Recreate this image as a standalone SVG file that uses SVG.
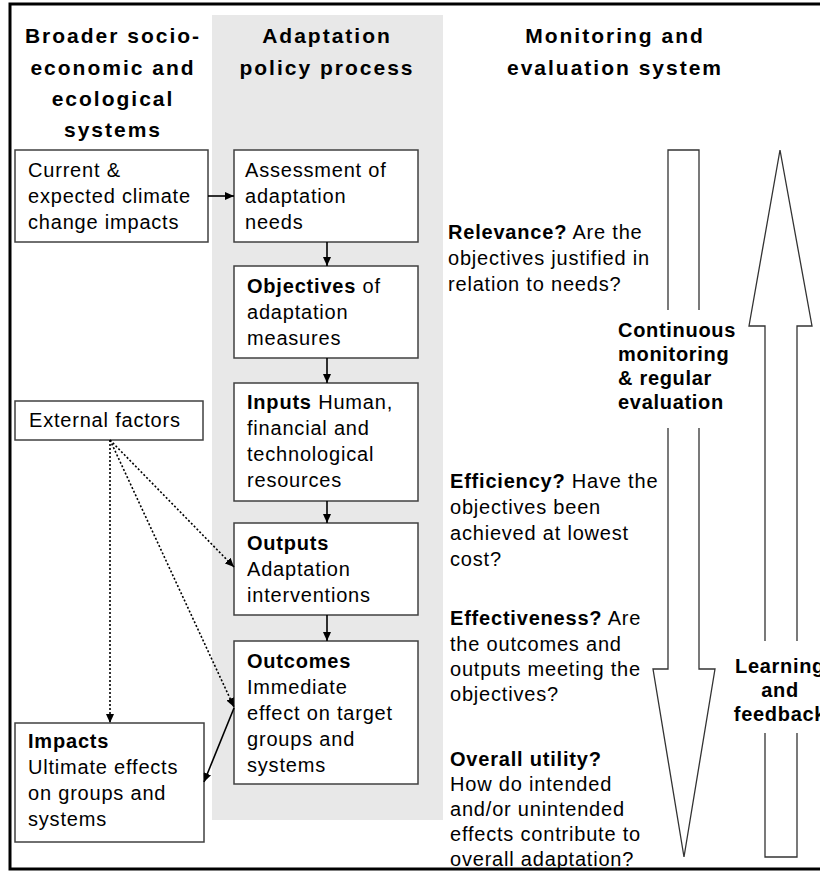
<svg xmlns="http://www.w3.org/2000/svg" width="820" height="871" viewBox="0 0 820 871">
<defs>
<style>
.bg{fill:#fff}
.panel{fill:#e8e8e8}
.frame{fill:none;stroke:#000;stroke-width:3}
.box{fill:#fff;stroke:#404040;stroke-width:1.5}
.t{font-family:"Liberation Sans",Arial,sans-serif;font-size:20px;letter-spacing:0.8px;fill:#000}
.b{font-weight:bold}
.title{font-family:"Liberation Sans",Arial,sans-serif;font-size:21px;font-weight:bold;letter-spacing:2px;text-anchor:middle;fill:#000}
.bt{font-family:"Liberation Sans",Arial,sans-serif;font-size:20px;font-weight:bold;letter-spacing:0.7px;fill:#000}
.c{text-anchor:middle}
.solid{fill:none;stroke:#000;stroke-width:1.6}
.dot{fill:none;stroke:#000;stroke-width:1.6;stroke-dasharray:2 2}
.big{fill:#fff;stroke:#333;stroke-width:1.3}
</style>
<marker id="ah" markerUnits="userSpaceOnUse" markerWidth="9" markerHeight="8" refX="9" refY="4" orient="auto">
<path d="M0,0 L9,4 L0,8 z" fill="#000"/>
</marker>
</defs>
<rect class="bg" x="0" y="0" width="820" height="871"/>
<rect class="panel" x="212" y="15" width="231" height="805"/>
<rect class="frame" x="10" y="4" width="830" height="865"/>

<g id="titles">
<text class="title" x="113" y="43">Broader socio-</text>
<text class="title" x="113" y="75">economic and</text>
<text class="title" x="113" y="106">ecological</text>
<text class="title" x="113" y="137">systems</text>
<text class="title" x="327" y="43">Adaptation</text>
<text class="title" x="327" y="75">policy process</text>
<text class="title" x="615" y="43">Monitoring and</text>
<text class="title" x="615" y="75">evaluation system</text>
</g>

<g id="current">
<rect class="box" x="15" y="150" width="193" height="92"/>
<text class="t" x="28" y="177">Current &amp;</text>
<text class="t" x="28" y="203">expected climate</text>
<text class="t" x="28" y="229">change impacts</text>
</g>

<g id="assessment">
<rect class="box" x="234" y="150" width="184" height="92"/>
<text class="t" x="245" y="177">Assessment of</text>
<text class="t" x="245" y="203">adaptation</text>
<text class="t" x="245" y="229">needs</text>
</g>

<g id="objectives">
<rect class="box" x="234" y="266" width="184" height="92"/>
<text class="t" x="247" y="293"><tspan class="b">Objectives</tspan> of</text>
<text class="t" x="247" y="319">adaptation</text>
<text class="t" x="247" y="345">measures</text>
</g>

<g id="inputs">
<rect class="box" x="234" y="383" width="184" height="118"/>
<text class="t" x="247" y="409"><tspan class="b">Inputs</tspan> Human,</text>
<text class="t" x="247" y="435">financial and</text>
<text class="t" x="247" y="461">technological</text>
<text class="t" x="247" y="487">resources</text>
</g>

<g id="outputs">
<rect class="box" x="234" y="523" width="184" height="92"/>
<text class="t" x="247" y="550"><tspan class="b">Outputs</tspan></text>
<text class="t" x="247" y="576">Adaptation</text>
<text class="t" x="247" y="602">interventions</text>
</g>

<g id="outcomes">
<rect class="box" x="234" y="641" width="184" height="143"/>
<text class="t" x="247" y="668"><tspan class="b">Outcomes</tspan></text>
<text class="t" x="247" y="694">Immediate</text>
<text class="t" x="247" y="720">effect on target</text>
<text class="t" x="247" y="746">groups and</text>
<text class="t" x="247" y="772">systems</text>
</g>

<g id="external">
<rect class="box" x="15" y="401" width="188" height="39"/>
<text class="t" x="29" y="427">External factors</text>
</g>

<g id="impacts">
<rect class="box" x="15" y="723" width="189" height="119"/>
<text class="t" x="28" y="748"><tspan class="b">Impacts</tspan></text>
<text class="t" x="28" y="774">Ultimate effects</text>
<text class="t" x="28" y="800">on groups and</text>
<text class="t" x="28" y="826">systems</text>
</g>

<g id="relevance">
<text class="t" x="448" y="239"><tspan class="b">Relevance?</tspan> Are the</text>
<text class="t" x="448" y="265">objectives justified in</text>
<text class="t" x="448" y="291">relation to needs?</text>
</g>

<g id="efficiency">
<text class="t" x="450" y="488"><tspan class="b">Efficiency?</tspan> Have the</text>
<text class="t" x="450" y="514">objectives been</text>
<text class="t" x="450" y="540">achieved at lowest</text>
<text class="t" x="450" y="566">cost?</text>
</g>

<g id="effectiveness">
<text class="t" x="450" y="625"><tspan class="b">Effectiveness?</tspan> Are</text>
<text class="t" x="450" y="651">the outcomes and</text>
<text class="t" x="450" y="676">outputs meeting the</text>
<text class="t" x="450" y="701">objectives?</text>
</g>

<g id="utility">
<text class="t" x="450" y="766"><tspan class="b">Overall utility?</tspan></text>
<text class="t" x="450" y="791">How do intended</text>
<text class="t" x="450" y="816">and/or unintended</text>
<text class="t" x="450" y="841">effects contribute to</text>
<text class="t" x="450" y="866">overall adaptation?</text>
</g>

<g id="monitoring-arrow">
<path class="big" d="M668,310 V150 H699 V310"/>
<path class="big" d="M668,428 V669 H653 L684,857 L715,669 H699 V428"/>
<text class="bt" x="618" y="337">Continuous</text>
<text class="bt" x="618" y="361">monitoring</text>
<text class="bt" x="618" y="385">&amp; regular</text>
<text class="bt" x="618" y="409">evaluation</text>
</g>

<g id="learning-arrow">
<path class="big" d="M765,641 V326 H749 L780,150 L812,326 H797 V641"/>
<path class="big" d="M765,733 V857 H797 V733"/>
<text class="bt c" x="780" y="673">Learning</text>
<text class="bt c" x="780" y="697">and</text>
<text class="bt c" x="780" y="721">feedback</text>
</g>

<g id="connectors">
<line class="solid" x1="208" y1="196" x2="234" y2="196" marker-end="url(#ah)"/>
<line class="solid" x1="327" y1="242" x2="327" y2="266" marker-end="url(#ah)"/>
<line class="solid" x1="327" y1="358" x2="327" y2="383" marker-end="url(#ah)"/>
<line class="solid" x1="327" y1="501" x2="327" y2="523" marker-end="url(#ah)"/>
<line class="solid" x1="327" y1="615" x2="327" y2="641" marker-end="url(#ah)"/>
<line class="dot" x1="110" y1="440" x2="110" y2="723" marker-end="url(#ah)"/>
<line class="dot" x1="110" y1="440" x2="234" y2="567" marker-end="url(#ah)"/>
<line class="dot" x1="110" y1="440" x2="234" y2="707" marker-end="url(#ah)"/>
<line class="solid" x1="234" y1="708" x2="204" y2="782" marker-end="url(#ah)"/>
</g>
</svg>
